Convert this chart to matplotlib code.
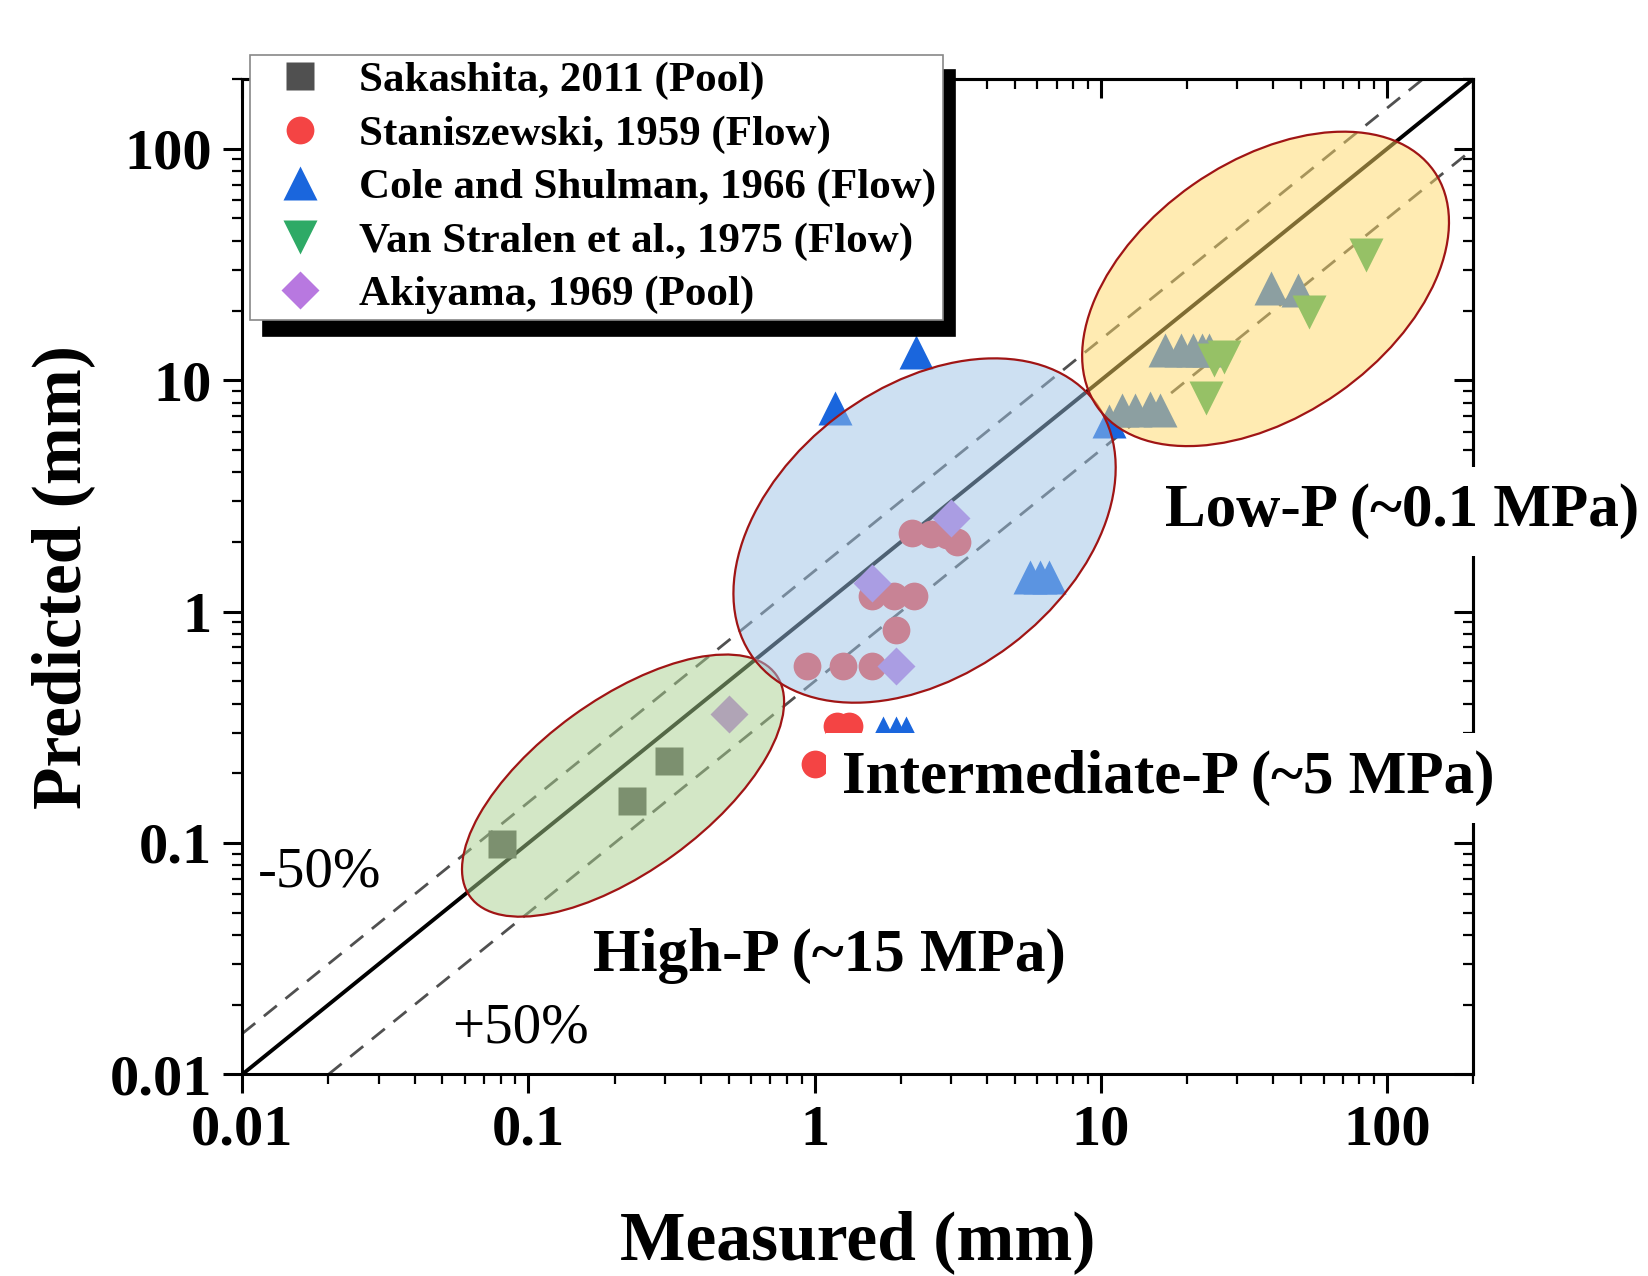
import numpy as np
import matplotlib
matplotlib.use("Agg")
import matplotlib.pyplot as plt
from matplotlib.patches import Ellipse
from matplotlib.transforms import ScaledTranslation
from matplotlib.colors import to_rgba
from matplotlib.ticker import LogLocator, NullFormatter, FixedLocator

plt.rcParams['font.family'] = ['Liberation Serif', 'DejaVu Serif']
plt.rcParams['font.weight'] = 'bold'

# ---- data (measured vs predicted, mm) ----
sak_meas = [0.081, 0.23, 0.31]
sak_pred = [0.099, 0.152, 0.226]

stan_meas = [0.94, 1.26, 1.58, 1.93, 1.58, 1.90, 2.23, 2.19, 2.54, 2.90, 3.13, 1.20, 1.32, 1.00]
stan_pred = [0.58, 0.58, 0.58, 0.83, 1.17, 1.17, 1.17, 2.19, 2.17, 2.14, 2.00, 0.32, 0.32, 0.22]

cole_meas = [1.18, 2.25, 5.65, 6.15, 6.6, 1.73, 1.92, 2.08,
             10.7, 11.8, 13.2, 14.8, 16.1, 16.7, 19.1, 21.0, 22.6, 23.8, 39.4, 48.7]
cole_pred = [7.6, 13.3, 1.41, 1.41, 1.41, 0.30, 0.30, 0.30,
             6.65, 7.46, 7.46, 7.6, 7.46, 13.5, 13.5, 13.5, 13.5, 13.5, 25.1, 24.6]

vs_meas = [84.5, 53.5, 24.8, 27.0, 23.2]
vs_pred = [34.7, 19.7, 12.2, 12.6, 8.37]

aki_meas = [0.5, 1.93, 1.59, 3.0]
aki_pred = [0.36, 0.58, 1.33, 2.54]

series_labels = ["Sakashita, 2011 (Pool)", "Staniszewski, 1959 (Flow)",
                 "Cole and Shulman, 1966 (Flow)", "Van Stralen et al., 1975 (Flow)",
                 "Akiyama, 1969 (Pool)"]

tick_vals = [0.01, 0.1, 1, 10, 100]
tick_labels = ["0.01", "0.1", "1", "10", "100"]
ref_x = [0.01, 200]
band_lo, band_hi = 0.5, 1.5

# pressure regions: centre (measured, predicted), size in inches, angle
regions = [
    ("High-P (~15 MPa)", 0.214, 0.177, 3.78, 1.72, 36, "#a9d18e"),
    ("Intermediate-P (~5 MPa)", 2.42, 2.24, 4.27, 2.87, 37, "#9dc3e6"),
    ("Low-P (~0.1 MPa)", 37.6, 24.8, 4.11, 2.54, 35, "#ffd966"),
]

fig = plt.figure(figsize=(16.48, 12.76), dpi=100)
ax = fig.add_axes([0.147, 0.158, 0.747, 0.780])
ax.set_xscale('log')
ax.set_yscale('log')
xmin, xmax = 0.01, 200
ax.set_xlim(xmin, xmax)
ax.set_ylim(xmin, xmax)

# reference lines
xs = np.array(ref_x)
ax.plot(xs, xs, color='black', lw=2.8, zorder=1)
ax.plot(xs, xs * band_hi, color='#505050', lw=2.0, ls=(0, (6, 4)), zorder=1)
ax.plot(xs, xs * band_lo, color='#505050', lw=2.0, ls=(0, (6, 4)), zorder=1)

h1, = ax.plot(sak_meas, sak_pred, ls='none', marker='s', ms=20, color='#505050', mec='none', zorder=2)
h2, = ax.plot(stan_meas, stan_pred, ls='none', marker='o', ms=20, color='#f44444', mec='none', zorder=2)
h3, = ax.plot(cole_meas, cole_pred, ls='none', marker='^', ms=25, color='#1a66dd', mec='none', zorder=2)
h4, = ax.plot(vs_meas, vs_pred, ls='none', marker='v', ms=25, color='#2eaa66', mec='none', zorder=2)
h5, = ax.plot(aki_meas, aki_pred, ls='none', marker='D', ms=19, color='#b878e0', mec='none', zorder=2)

# ellipses in display space, centred on data points
lx0, lx1 = np.log10(xmin), np.log10(xmax)
for name, cx, cy, w, h, ang, col in regions:
    fx = (np.log10(cx) - lx0) / (lx1 - lx0)
    fy = (np.log10(cy) - lx0) / (lx1 - lx0)
    tr = fig.dpi_scale_trans + ScaledTranslation(fx, fy, ax.transAxes)
    e = Ellipse((0, 0), w, h, angle=ang, transform=tr,
                facecolor=to_rgba(col, 0.5), edgecolor='#a01515', lw=1.6, zorder=3)
    ax.add_patch(e)

# region labels
bb = dict(facecolor='white', edgecolor='none', pad=12)
ax.text(16.7, 2.71, "Low-P (~0.1 MPa)", fontsize=44, ha='left', va='center', bbox=bb, zorder=5, clip_on=False)
ax.text(1.25, 0.191, "Intermediate-P (~5 MPa)", fontsize=44, ha='left', va='center', bbox=bb, zorder=5, clip_on=False)
ax.text(0.168, 0.0325, "High-P (~15 MPa)", fontsize=44, ha='left', va='center', bbox=bb, zorder=5, clip_on=False)
ax.text(0.01137, 0.0748, "-50%", fontsize=41, fontweight='normal', ha='left', va='center', zorder=5)
ax.text(0.054, 0.0158, "+50%", fontsize=41, fontweight='normal', ha='left', va='center', zorder=5)

# axes styling
for s in ax.spines.values():
    s.set_linewidth(2.2)
    s.set_zorder(4)
for axis in (ax.xaxis, ax.yaxis):
    axis.set_major_locator(FixedLocator(tick_vals))
    axis.set_minor_locator(LogLocator(base=10, subs=np.arange(2, 10)))
    axis.set_minor_formatter(NullFormatter())
ax.set_xticks(tick_vals, tick_labels)
ax.set_yticks(tick_vals, tick_labels)
ax.tick_params(which='major', direction='out', length=14, width=2.2, labelsize=42, pad=8)
ax.tick_params(which='minor', direction='out', length=7, width=1.6)

# mirrored inward ticks on top and right
sec_x = ax.secondary_xaxis('top')
sec_y = ax.secondary_yaxis('right')
sec_x.set_xscale('log')
sec_y.set_yscale('log')
for sax, sec in ((sec_x.xaxis, sec_x), (sec_y.yaxis, sec_y)):
    sax.set_major_locator(FixedLocator(tick_vals))
    sax.set_minor_locator(LogLocator(base=10, subs=np.arange(2, 10)))
    sax.set_major_formatter(NullFormatter())
    sax.set_minor_formatter(NullFormatter())
    sec.tick_params(which='major', direction='in', length=14, width=2.2)
    sec.tick_params(which='minor', direction='in', length=7, width=1.6)
    for s in sec.spines.values():
        s.set_linewidth(2.2)

ax.set_xlabel("Measured (mm)", fontsize=50, fontweight='bold', labelpad=38)
ax.set_ylabel("Predicted (mm)", fontsize=50, fontweight='bold', labelpad=10)

leg = ax.legend([h1, h2, h3, h4, h5], series_labels, loc='upper left',
                bbox_to_anchor=(0.1517, 0.957), bbox_transform=fig.transFigure,
                fontsize=31, frameon=True, fancybox=False, framealpha=1,
                edgecolor='#888888', borderpad=0.15, handlelength=2.0,
                handletextpad=0.38, labelspacing=0.33, borderaxespad=0,
                shadow={'ox': 9, 'oy': -11, 'color': 'black', 'alpha': 1})
leg.get_frame().set_linewidth(1.2)
leg.set_zorder(10)

fig.savefig("out.png", dpi=100)
